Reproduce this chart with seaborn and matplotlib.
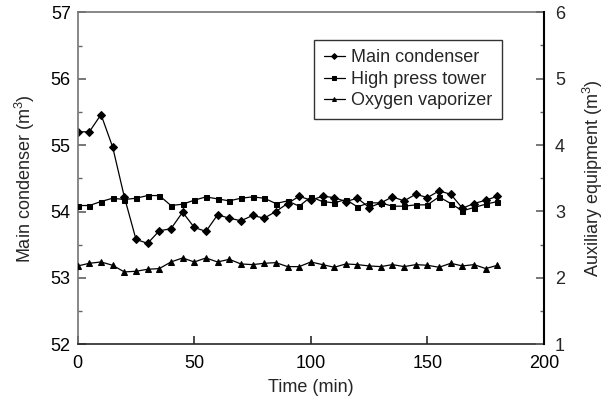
import numpy as np
import pandas as pd
import seaborn as sns
import matplotlib
matplotlib.use("Agg")
import matplotlib.pyplot as plt
from matplotlib.ticker import MultipleLocator

sns.set_theme(style="white")
plt.rcParams['font.family'] = ['Liberation Sans', 'DejaVu Sans']
plt.rcParams['mathtext.fontset'] = 'custom'
plt.rcParams['mathtext.rm'] = 'Liberation Sans'

# data, one point every 5 min
time = list(range(0, 185, 5))
main_condenser = [55.20, 55.20, 55.46, 54.97, 54.22, 53.58, 53.52, 53.71, 53.74, 53.99,
                  53.76, 53.70, 53.95, 53.90, 53.86, 53.94, 53.90, 54.00, 54.12, 54.23,
                  54.17, 54.23, 54.21, 54.15, 54.20, 54.06, 54.13, 54.22, 54.16, 54.26,
                  54.21, 54.31, 54.26, 54.05, 54.12, 54.17, 54.23]
high_press_tower = [3.09, 3.09, 3.15, 3.20, 3.18, 3.20, 3.24, 3.24, 3.09, 3.11,
                    3.17, 3.22, 3.19, 3.16, 3.20, 3.22, 3.20, 3.12, 3.16, 3.08,
                    3.22, 3.15, 3.13, 3.18, 3.07, 3.13, 3.13, 3.08, 3.08, 3.10,
                    3.10, 3.22, 3.12, 3.01, 3.06, 3.11, 3.15]
oxygen_vaporizer = [2.18, 2.22, 2.24, 2.19, 2.09, 2.10, 2.13, 2.14, 2.24, 2.30,
                    2.24, 2.30, 2.24, 2.28, 2.21, 2.20, 2.22, 2.23, 2.17, 2.17,
                    2.24, 2.20, 2.16, 2.21, 2.20, 2.18, 2.17, 2.20, 2.17, 2.20,
                    2.19, 2.16, 2.22, 2.18, 2.20, 2.14, 2.19]

df = pd.DataFrame({'time': time, 'main': main_condenser,
                   'hpt': high_press_tower, 'ov': oxygen_vaporizer})

fs = 13
fig = plt.figure(figsize=(6.07, 4.05), dpi=100)
ax = fig.add_axes([77.7/607, 1 - 344.3/405, (544 - 77.7)/607, (344.3 - 12.3)/405])
ax2 = ax.twinx()

sns.lineplot(data=df, x='time', y='main', ax=ax, color='black', lw=0.9,
             marker='D', markersize=4.2, markeredgecolor='black', label='Main condenser', legend=False)
sns.lineplot(data=df, x='time', y='hpt', ax=ax2, color='black', lw=0.9,
             marker='s', markersize=3.6, markeredgecolor='black', label='High press tower', legend=False)
sns.lineplot(data=df, x='time', y='ov', ax=ax2, color='black', lw=0.9,
             marker='^', markersize=4, markeredgecolor='black', label='Oxygen vaporizer', legend=False)

ax.set_xlim(0, 200)
ax.set_ylim(52, 57)
ax2.set_ylim(1, 6)
ax.xaxis.set_major_locator(MultipleLocator(50))
ax.yaxis.set_major_locator(MultipleLocator(1))
ax.yaxis.set_minor_locator(MultipleLocator(0.5))
ax2.yaxis.set_major_locator(MultipleLocator(1))
ax2.yaxis.set_minor_locator(MultipleLocator(0.5))

ax.tick_params(axis='both', which='both', direction='in', labelsize=fs, colors='black',
               bottom=True, left=True)
ax.tick_params(axis='y', which='both', pad=5)
ax.tick_params(axis='x', which='major', pad=8, length=6, color='0.2')
ax.tick_params(axis='y', which='major', length=6, color='0.4')
ax.tick_params(axis='y', which='minor', length=3, color='0.4')
ax2.tick_params(axis='y', which='both', direction='in', labelsize=fs, right=True, pad=8)
ax2.tick_params(axis='y', which='major', length=6, color='0.4')
ax2.tick_params(axis='y', which='minor', length=3, color='0.4')

for s in ['left', 'top']:
    ax.spines[s].set_color('0.45')
    ax.spines[s].set_linewidth(1.2)
ax.spines['bottom'].set_color('0.15')
ax.spines['bottom'].set_linewidth(1.2)
ax2.spines['right'].set_color('black')
ax2.spines['right'].set_linewidth(1.5)
for s in ['left', 'top', 'bottom']:
    ax2.spines[s].set_visible(False)

ax.set_xlabel('Time (min)', fontsize=fs, labelpad=5)
ax.set_ylabel('Main condenser (m$^3$)', fontsize=fs, labelpad=10)
ax2.set_ylabel('Auxiliary equipment (m$^3$)', fontsize=fs, labelpad=11)

h1, l1 = ax.get_legend_handles_labels()
h2, l2 = ax2.get_legend_handles_labels()
leg = ax2.legend(h1 + h2, l1 + l2, loc='upper left', bbox_to_anchor=(0.506, 0.918),
                 fontsize=fs, frameon=True, fancybox=False, edgecolor='black',
                 handlelength=1.2, handletextpad=0.3, borderpad=0.55, labelspacing=0.25,
                 markerscale=0.7, borderaxespad=0)
leg.get_frame().set_linewidth(1)

fig.savefig('out.png', dpi=100)
